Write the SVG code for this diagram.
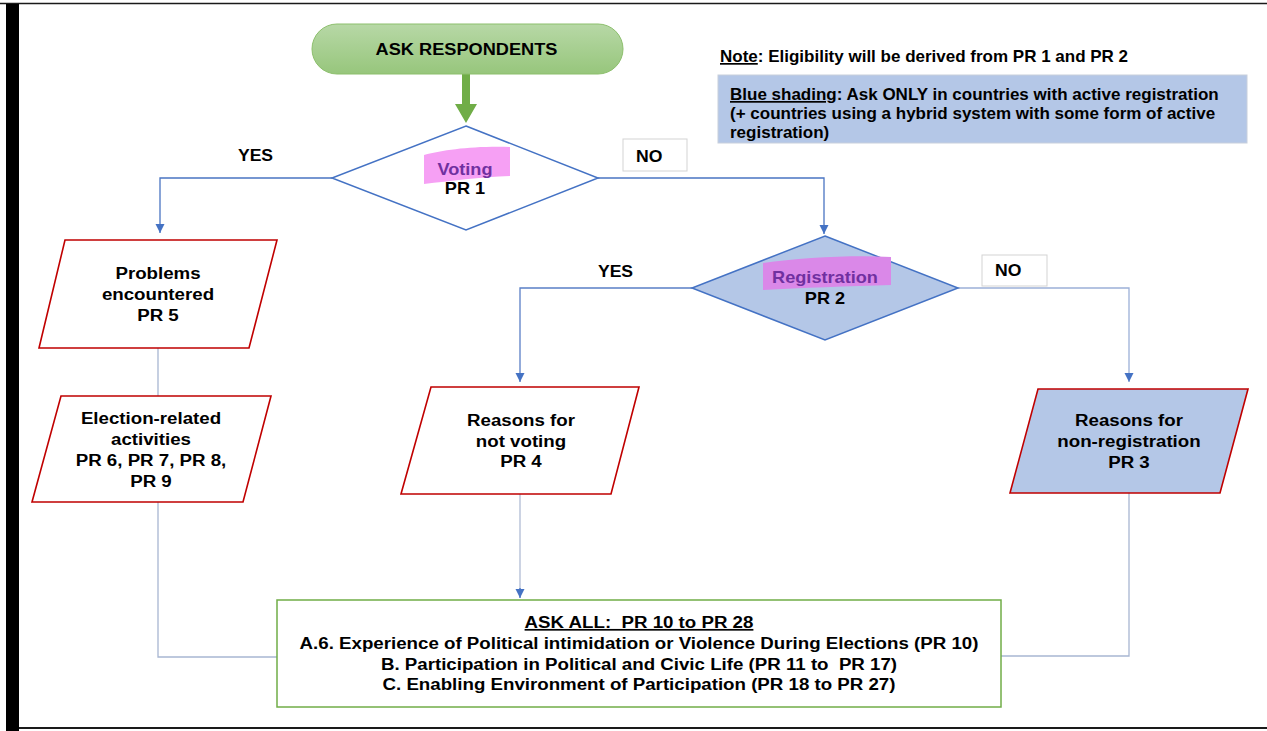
<svg xmlns="http://www.w3.org/2000/svg" width="1267" height="731" viewBox="0 0 1267 731">
<defs>
<linearGradient id="gTerm" x1="0" y1="0" x2="0" y2="1">
<stop offset="0" stop-color="#b7d8a6"/>
<stop offset="1" stop-color="#97c67c"/>
</linearGradient>
<marker id="arr" markerUnits="userSpaceOnUse" markerWidth="10" markerHeight="10" refX="9" refY="4.5" orient="auto">
<path d="M0,0 L9,4.5 L0,9 z" fill="#4472c4"/>
</marker>
<style>
text{font-family:"Liberation Sans",Arial,sans-serif;font-weight:bold;fill:#000}
.c{text-anchor:middle}
.s{font-size:17px}
.d{font-size:16.5px}
.pur{fill:#7030a0}
.para{fill:#fff;stroke:#c00000;stroke-width:1.6}
.para.blue{fill:#b4c7e7}
.dia{stroke:#4472c4;stroke-width:1.5}
.conn{fill:none;stroke-width:1.3}
.nob{fill:#fff;stroke:#d3d3d3;stroke-width:1}
</style>
</defs>
<rect width="1267" height="731" fill="#fff"/>
<!-- frame -->
<g id="frame">
<line x1="0" y1="3.5" x2="1267" y2="3.5" stroke="#1a1a1a" stroke-width="1.5"/>
<rect x="6" y="4" width="13" height="727" fill="#000"/>
<line x1="19" y1="728" x2="1267" y2="728" stroke="#1a1a1a" stroke-width="2"/>
</g>

<g id="connectors">
<polygon points="462,74 470,74 470,104 477,104 466,123 455,104 462,104" fill="#70ad47"/>
<polyline class="conn" stroke="#4a74c2" points="332,178 160,178 160,233" marker-end="url(#arr)"/>
<polyline class="conn" stroke="#4a74c2" points="598,178 824,178 824,234" marker-end="url(#arr)"/>
<polyline class="conn" stroke="#5a7fc6" points="692,288 520,288 520,382" marker-end="url(#arr)"/>
<polyline class="conn" stroke="#9cb0d8" points="958,288 1129,288 1129,382" marker-end="url(#arr)"/>
<line class="conn" stroke="#a8b6d2" x1="158" y1="348" x2="158" y2="396"/>
<polyline class="conn" stroke="#a8b6d2" points="158,502 158,657 277,657"/>
<line class="conn" stroke="#b0bcd4" x1="520" y1="494" x2="520" y2="590"/>
<polyline class="conn" stroke="#4472c4" points="520,588 520,598" marker-end="url(#arr)"/>
<polyline class="conn" stroke="#a8b6d2" points="1129,493 1129,656 1001,656"/>
</g>

<g id="start">
<rect x="312" y="24" width="311" height="50" rx="25" ry="25" fill="url(#gTerm)" stroke="#8cbf6c" stroke-width="1"/>
<g transform="translate(466.5 0) scale(1.07 1)"><text class="c s" x="0" y="55">ASK RESPONDENTS</text></g>
</g>

<g id="note">
<text class="s" x="720" y="62"><tspan text-decoration="underline">Note</tspan>: Eligibility will be derived from PR 1 and PR 2</text>
</g>

<g id="legend">
<rect x="718" y="75" width="529" height="68" fill="#b4c7e7" stroke="#c8cfdc" stroke-width="1"/>
<text class="s" x="730" y="100"><tspan text-decoration="underline">Blue shading</tspan>: Ask ONLY in countries with active registration</text>
<text class="s" x="730" y="119">(+ countries using a hybrid system with some form of active</text>
<text class="s" x="730" y="138">registration)</text>
</g>

<g id="pr1">
<polygon class="dia" points="466,126 598,178 466,230 332,178" fill="#fff"/>
<path d="M424,155 C445,150 470,146 510,147 L510,176 C480,177 450,181 424,184 Z" fill="#f6a0f4"/>
<g transform="translate(465 0) scale(1.1 1)">
<text class="c d pur" x="0" y="175">Voting</text>
<text class="c d" x="0" y="194">PR 1</text>
</g>
</g>

<g id="label-yes1">
<g transform="translate(255.5 0) scale(1.1 1)"><text class="c" style="font-size:16px" x="0" y="161">YES</text></g>
</g>
<g id="label-no1">
<rect class="nob" x="623" y="139" width="64" height="32"/>
<g transform="translate(636 0) scale(1.1 1)"><text style="font-size:16px" x="0" y="162">NO</text></g>
</g>

<g id="pr2">
<polygon class="dia" points="825,236 958,288 825,340 692,288" fill="#b4c7e7"/>
<path d="M763,263 C800,258 850,255 891,257 L891,285 C850,286 800,288 763,290 Z" fill="#da88e8"/>
<g transform="translate(825 0) scale(1.1 1)">
<text class="c d pur" x="0" y="283">Registration</text>
<text class="c d" x="0" y="304">PR 2</text>
</g>
</g>

<g id="label-yes2">
<g transform="translate(615.5 0) scale(1.1 1)"><text class="c" style="font-size:16px" x="0" y="277">YES</text></g>
</g>
<g id="label-no2">
<rect class="nob" x="982" y="255" width="65" height="31"/>
<g transform="translate(995 0) scale(1.1 1)"><text style="font-size:16px" x="0" y="276">NO</text></g>
</g>

<g id="pr5">
<polygon class="para" points="65,240 277,240 249,348 39,348"/>
<g transform="translate(158 0) scale(1.1 1)">
<text class="c s" x="0" y="279">Problems</text>
<text class="c s" x="0" y="300">encountered</text>
<text class="c s" x="0" y="321">PR 5</text>
</g>
</g>

<g id="pr6">
<polygon class="para" points="61,396 271,396 243,502 32,502"/>
<g transform="translate(151 0) scale(1.1 1)">
<text class="c s" x="0" y="424">Election-related</text>
<text class="c s" x="0" y="445">activities</text>
<text class="c s" x="0" y="466">PR 6, PR 7, PR 8,</text>
<text class="c s" x="0" y="487">PR 9</text>
</g>
</g>

<g id="pr4">
<polygon class="para" points="431,387 639,387 611,494 401,494"/>
<g transform="translate(521 0) scale(1.1 1)">
<text class="c s" x="0" y="426">Reasons for</text>
<text class="c s" x="0" y="447">not voting</text>
<text class="c s" x="0" y="467">PR 4</text>
</g>
</g>

<g id="pr3">
<polygon class="para blue" points="1038,389 1248,389 1220,493 1010,493"/>
<g transform="translate(1129 0) scale(1.1 1)">
<text class="c s" x="0" y="426">Reasons for</text>
<text class="c s" x="0" y="447">non-registration</text>
<text class="c s" x="0" y="468">PR 3</text>
</g>
</g>

<g id="askall">
<rect x="277" y="600" width="724" height="107" fill="#fff" stroke="#70ad47" stroke-width="1.5"/>
<g transform="translate(639 0) scale(1.1 1)">
<text class="c s" x="0" y="628" style="white-space:pre" text-decoration="underline">ASK ALL:  PR 10 to PR 28</text>
<text class="c s" x="0" y="649">A.6. Experience of Political intimidation or Violence During Elections (PR 10)</text>
<text class="c s" x="0" y="670" style="white-space:pre">B. Participation in Political and Civic Life (PR 11 to  PR 17)</text>
<text class="c s" x="0" y="690">C. Enabling Environment of Participation (PR 18 to PR 27)</text>
</g>
</g>
</svg>
